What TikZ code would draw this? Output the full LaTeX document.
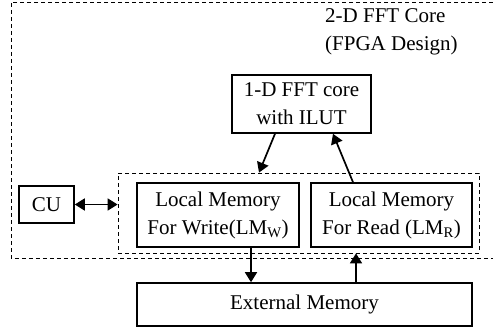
\documentclass[tikz,border=0pt]{standalone}
\usepackage{fontspec}
\setmainfont{Liberation Serif}
\usetikzlibrary{arrows.meta,positioning,calc}
\newcommand{\boxfont}{\fontsize{21pt}{28pt}\selectfont}
\begin{document}
\begin{tikzpicture}[x=1pt,y=-1pt,
  blk/.style={draw,line width=1.6pt,align=center,inner sep=0pt,font=\boxfont},
  grp/.style={draw,dashed,line width=0.8pt,dash pattern=on 4pt off 3pt,inner sep=0pt},
  tip/.tip={Triangle[length=10pt,width=12pt]},
  arr/.style={line width=1.7pt,-tip},
  darr/.style={line width=1.7pt,tip-tip}]
  \useasboundingbox (0,0) rectangle (493,332);

  % FPGA boundary (open on the right)
  \draw[grp] (500,2) -- (11,2) -- (11,258) -- (500,258);
  \node[anchor=north west,align=left,inner sep=0pt,font=\boxfont] (title) at (325,8)
    {2-D FFT Core\\(FPGA Design)};

  % blocks
  \node[blk,minimum width=139pt,minimum height=58pt] (fft) at (301.5,104)
    {1-D FFT core\\with ILUT};
  \node[grp,minimum width=361pt,minimum height=80pt] (inner) at (298.5,213) {};
  \node[blk,minimum width=162pt,minimum height=64pt] (lmw) at (218,215)
    {Local Memory\\For Write(LM\textsubscript{W})};
  \node[blk,minimum width=161pt,minimum height=64pt] (lmr) at (391.5,215)
    {Local Memory\\For Read (LM\textsubscript{R})};
  \node[blk,minimum width=55pt,minimum height=37pt] (cu) at (46.5,204.5) {CU};
  \node[blk,minimum width=335pt,minimum height=43pt] (ext) at (304.5,304.5)
    {External Memory};

  % connectors
  \draw[arr] ([xshift=-26.5pt]fft.south) -- ([xshift=-39.5pt]inner.north);
  \draw[arr] ([xshift=-38.5pt]lmr.north) -- ([xshift=31.5pt]fft.south);
  \draw[darr] (cu.east) -- (cu.east -| inner.west);
  \draw[arr] ([xshift=33pt]lmw.south) -- ([xshift=33pt]lmw.south |- ext.north);
  \coordinate (up) at ([xshift=51.5pt]ext.north);
  \draw[arr] (up) -- (up |- inner.south);
\end{tikzpicture}
\end{document}
